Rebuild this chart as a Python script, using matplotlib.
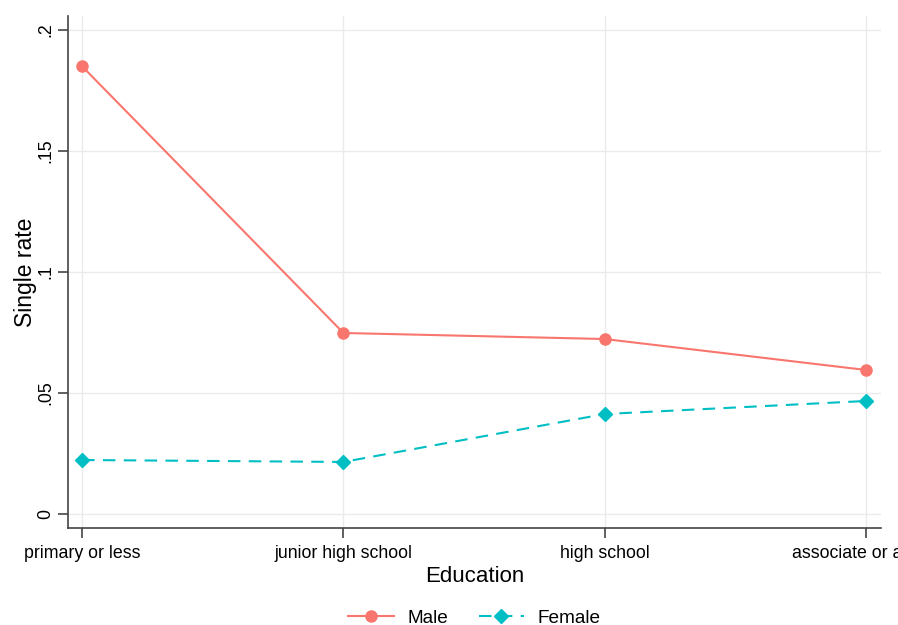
import matplotlib
matplotlib.use("Agg")
import matplotlib.pyplot as plt

categories = ["primary or less", "junior high school", "high school", "associate or above"]
male = [0.185, 0.0748, 0.0723, 0.0595]
female = [0.0223, 0.0215, 0.0413, 0.0467]
yticks = [0, 0.05, 0.1, 0.15, 0.2]
ytick_labels = ["0", ".05", ".1", ".15", ".2"]

plt.rcParams['font.family'] = ['Liberation Sans', 'DejaVu Sans']

fig = plt.figure(figsize=(8.98, 6.25), dpi=100)
ax = fig.add_axes([68/898, 1-528/625, (881-68)/898, (528-16)/625])

x = list(range(len(categories)))
ax.plot(x, male, color="#F8766D", lw=1.5, marker="o", ms=8, label="Male", zorder=3)
ax.plot(x, female, color="#00BFC4", lw=1.5, ls=(0, (6, 4)), marker="D", ms=7.5, label="Female", zorder=3)

ax.set_xlim(-0.054, 3.057)
ax.set_ylim(-0.0058, 0.2058)
ax.set_xticks(x)
ax.set_xticklabels(categories, fontsize=12.8)
ax.set_yticks(yticks)
ax.set_yticklabels(ytick_labels, fontsize=12.8, rotation=90, va="center")
ax.grid(True, color="#ebebeb", lw=1)
ax.set_axisbelow(True)
for s in ["top", "right"]:
    ax.spines[s].set_visible(False)
for s in ["left", "bottom"]:
    ax.spines[s].set_color("#444444")
    ax.spines[s].set_linewidth(1.2)
ax.tick_params(axis="both", direction="out", length=7, width=1.2, color="#444444", pad=5)
ax.tick_params(axis="y", pad=3)
ax.set_xlabel("Education", fontsize=16, labelpad=3)
ax.set_ylabel("Single rate", fontsize=16.5, labelpad=0)

fig.legend(loc="center", bbox_to_anchor=((68+881)/2/898, 1-618/625), ncol=2, frameon=False,
           fontsize=13.7, handlelength=2.4, handletextpad=0.7, columnspacing=1.6)

fig.savefig("out.png", dpi=100)
